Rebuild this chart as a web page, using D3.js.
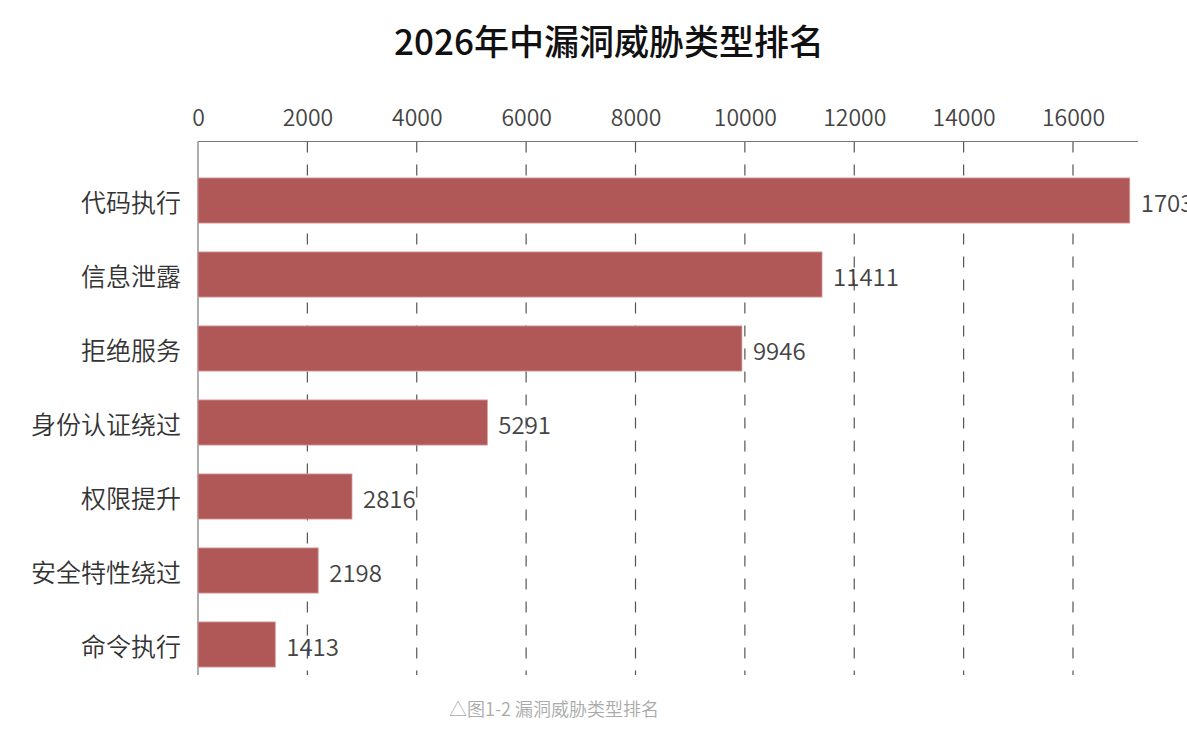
<!DOCTYPE html>
<html>
<head>
<meta charset="utf-8">
<script src="https://cdn.jsdelivr.net/npm/d3@7.9.0/dist/d3.min.js"></script>
<style>
  html, body { margin: 0; padding: 0; background: #fff; }
  svg { display: block; font-family: "Noto Sans CJK SC", "Noto Sans", sans-serif; }
</style>
</head>
<body>
<div id="chart"></div>
<script>
const title = '2026年中漏洞威胁类型排名';
const caption = '△图1-2 漏洞威胁类型排名';
const categories = ['代码执行', '信息泄露', '拒绝服务', '身份认证绕过', '权限提升', '安全特性绕过', '命令执行'];
const counts = [17038, 11411, 9946, 5291, 2816, 2198, 1413];
const xTicks = [0, 2000, 4000, 6000, 8000, 10000, 12000, 14000, 16000];

const width = 1187;
const height = 735;

const svg = d3.select('#chart')
  .append('svg')
  .attr('width', width)
  .attr('height', height);

// scales
const x = d3.scaleLinear()
  .domain([0, 16000])
  .range([198, 1073]);

const y = d3.scaleBand()
  .domain(categories)
  .range([163.5, 681.5])
  .paddingInner(0.39)
  .paddingOuter(0.195);

const axisTop = 141.5;
const axisBottom = 675;

svg.append('text')
  .attr('x', 609)
  .attr('y', 39)
  .attr('text-anchor', 'middle')
  .attr('dominant-baseline', 'central')
  .attr('font-size', 35)
  .attr('font-weight', 500)
  .attr('fill', '#111')
  .text(title);

// grid
svg.append('g')
  .selectAll('line')
  .data(xTicks.slice(1))
  .join('line')
  .attr('x1', d => x(d))
  .attr('x2', d => x(d))
  .attr('y1', axisTop)
  .attr('y2', axisBottom)
  .attr('stroke', '#555')
  .attr('stroke-width', 1.2)
  .attr('stroke-dasharray', '11,12');

// top axis
const axis = svg.append('g')
  .attr('transform', `translate(0,${axisTop})`)
  .call(d3.axisTop(x).tickValues(xTicks).tickSize(0).tickPadding(16).tickFormat(d3.format('d')));
axis.select('.domain').remove();
axis.selectAll('text')
  .attr('font-size', 23)
  .attr('font-weight', 350)
  .attr('fill', '#444')
  .attr('font-family', '"Noto Sans CJK SC", sans-serif');

svg.append('line')
  .attr('x1', 198).attr('x2', 1138)
  .attr('y1', axisTop).attr('y2', axisTop)
  .attr('stroke', '#777').attr('stroke-width', 1.2);

svg.append('line')
  .attr('x1', 198).attr('x2', 198)
  .attr('y1', axisTop).attr('y2', axisBottom)
  .attr('stroke', '#777').attr('stroke-width', 1.2);

// bars
const rows = categories.map((c, i) => ({ name: c, value: counts[i] }));

svg.append('g')
  .selectAll('rect')
  .data(rows)
  .join('rect')
  .attr('x', x(0))
  .attr('y', d => y(d.name))
  .attr('width', d => x(d.value) - x(0))
  .attr('height', y.bandwidth())
  .attr('fill', '#b05858')
  .attr('stroke', '#d69c9c')
  .attr('stroke-width', 0.8);

// value labels
svg.append('g')
  .selectAll('text')
  .data(rows)
  .join('text')
  .attr('x', d => x(d.value) + 11)
  .attr('y', d => y(d.name) + y.bandwidth() / 2 + 1)
  .attr('dominant-baseline', 'central')
  .attr('font-size', 24)
  .attr('font-weight', 350)
  .attr('fill', '#444')
  .text(d => d.value);

// category labels
svg.append('g')
  .selectAll('text')
  .data(rows)
  .join('text')
  .attr('x', 181)
  .attr('y', d => y(d.name) + y.bandwidth() / 2)
  .attr('text-anchor', 'end')
  .attr('dominant-baseline', 'central')
  .attr('font-size', 25)
  .attr('font-weight', 350)
  .attr('fill', '#333')
  .text(d => d.name);

svg.append('text')
  .attr('x', 554)
  .attr('y', 708)
  .attr('text-anchor', 'middle')
  .attr('dominant-baseline', 'central')
  .attr('font-size', 18)
  .attr('font-weight', 350)
  .attr('fill', '#aaa')
  .text(caption);
</script>
</body>
</html>
